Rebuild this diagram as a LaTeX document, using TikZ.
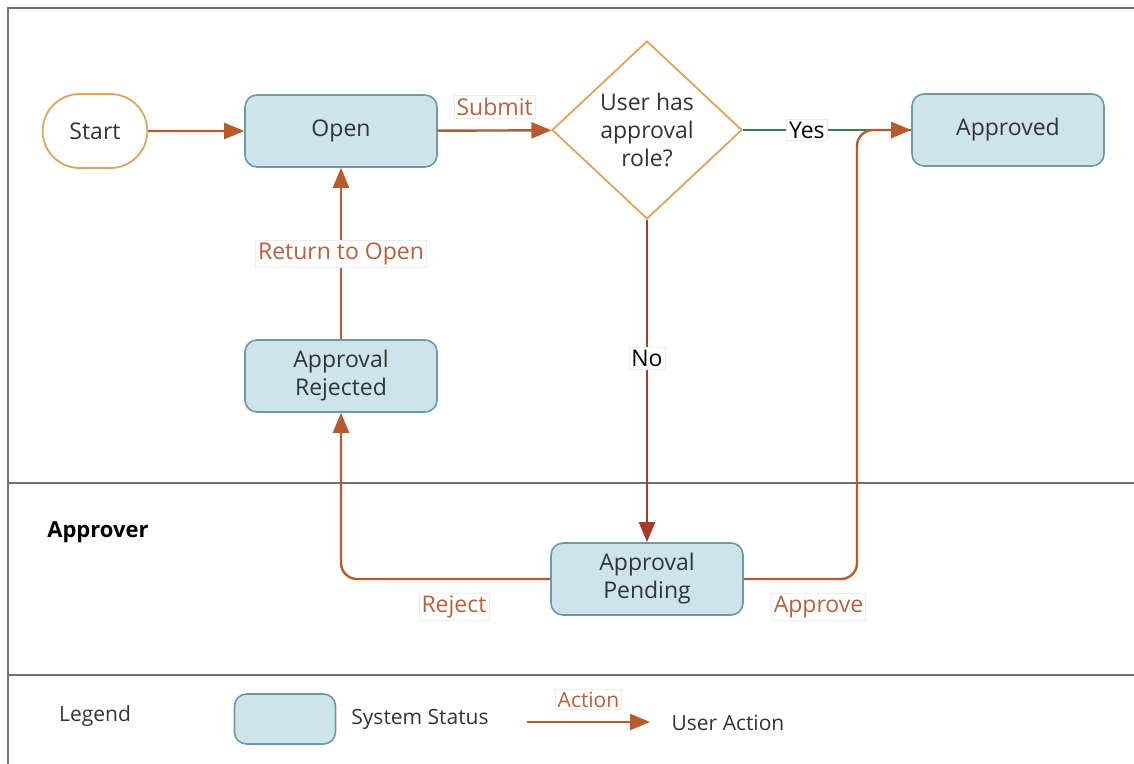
\documentclass[tikz,border=0pt]{standalone}
\usepackage{fontspec}
\setmainfont{Open Sans}
\usetikzlibrary{arrows.meta,shapes.geometric,shapes.misc}
\definecolor{boxfill}{HTML}{CCE4EA}
\definecolor{boxline}{HTML}{6E9AA6}
\definecolor{startline}{HTML}{E0A458}
\definecolor{act}{HTML}{B85A2C}
\definecolor{lbltxt}{HTML}{B8603C}
\definecolor{yesgreen}{HTML}{3C7A52}
\definecolor{nored}{HTML}{A83A2C}
\definecolor{frame}{HTML}{707070}
\definecolor{txt}{HTML}{333333}
\tikzset{
  status/.style={rectangle, rounded corners=6pt, draw=boxline, fill=boxfill, line width=0.8pt,
    minimum width=96pt, minimum height=36pt, align=center, text=txt, font=\fontsize{11.5}{14}\selectfont},
  startnode/.style={rounded rectangle, draw=startline, line width=0.9pt, fill=white,
    minimum width=59pt, minimum height=37pt, text=txt, font=\fontsize{11.5}{14}\selectfont},
  decision/.style={diamond, draw=startline, line width=0.9pt, fill=white, inner sep=0pt,
    minimum width=95pt, minimum height=89pt, align=center, text=txt, font=\fontsize{11.5}{14}\selectfont},
  action/.style={draw=act, line width=1.2pt, -{Triangle[length=10pt,width=8pt]}},
  lbl/.style={sharp corners, fill=white, draw=gray!15, line width=0.3pt, inner sep=1.2pt, text=lbltxt, font=\fontsize{11.5}{14}\selectfont},
  blbl/.style={sharp corners, fill=white, draw=gray!15, line width=0.3pt, inner sep=1.2pt, text=black, font=\fontsize{11.5}{14}\selectfont},
  plain/.style={text=txt, font=\fontsize{10.5}{13}\selectfont},
  frameline/.style={draw=frame, line width=1.4pt},
}
\begin{document}
\begin{tikzpicture}[x=0.5pt, y=-0.5pt]
\useasboundingbox (0,0) rectangle (1134,764);
% frame
\draw[frameline] (1134,8) -- (8,8) -- (8,764);
\draw[frameline] (8,483) -- (1134,483);
\draw[frameline] (8,675) -- (1134,675);

% nodes
\node[startnode] (start) at (95,131) {Start};
\node[status] (open) at (341,131) {Open};
\node[decision] (dia) at (647,130) {User has\\approval\\role?};
\node[status] (appr) at (1008,130) {Approved};
\node[status] (rej) at (341,376) {Approval\\Rejected};
\node[status] (pend) at (647,579) {Approval\\Pending};
\node[font=\bfseries\fontsize{11}{13}\selectfont, text=black] (approver) at (98,532) {Approver};

% connectors
\draw[action] (start) -- (open);
\draw[action] (open) -- node[lbl, above=6pt] {Submit} (dia);
\draw[draw=yesgreen, line width=1.2pt] (dia.east) -- node[blbl, pos=0.38] {Yes} (appr.west);
\draw[action, draw=nored] (dia.south) -- node[blbl, pos=0.43] {No} (pend.north);
\draw[action] (rej) -- node[lbl] {Return to Open} (open);
\draw[action, rounded corners=8pt] (pend.west) -| node[lbl, below=7pt, pos=0.23] {Reject} (rej.south);
\coordinate (apx) at (857,130);
\draw[action, rounded corners=8pt] (pend.east) -| node[lbl, below=7pt, pos=0.33] {Approve} (apx) -- (appr.west);

% legend
\node[plain] (legend) at (95,716) {Legend};
\node[status, minimum width=50.5pt, minimum height=25pt] (legbox) at (285,719) {};
\node[plain] (sysstat) at (420,719) {System Status};
\coordinate (la) at (527,722);
\coordinate (lb) at (650,722);
\draw[action] (la) -- node[lbl, above=6pt, font=\fontsize{10.5}{13}\selectfont] {Action} (lb);
\node[plain] (useract) at (728,723) {User Action};
\end{tikzpicture}
\end{document}
